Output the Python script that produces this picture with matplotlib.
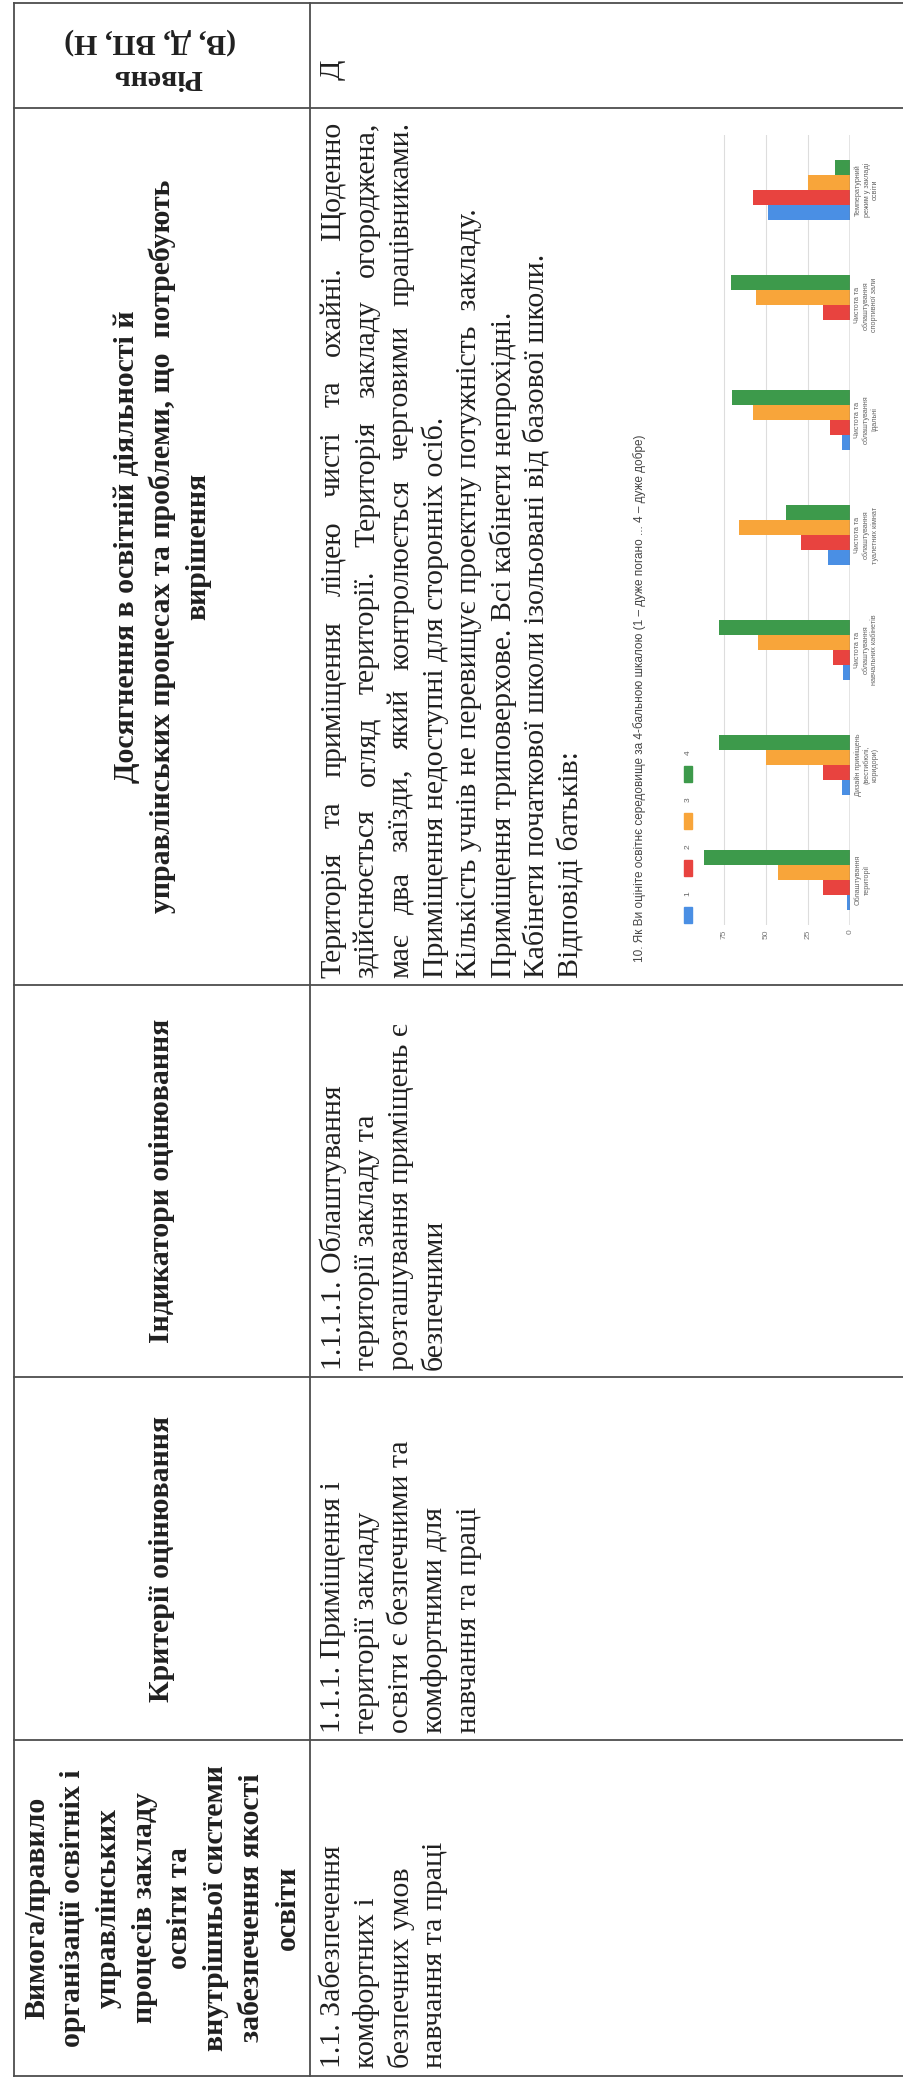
import numpy as np
import matplotlib.pyplot as plt
from matplotlib.patches import Rectangle

# ---- дані діаграми: відповіді батьків (питання 10) ----
categories = ["Облаштування\nтериторії",
              "Дизайн приміщень\n(вестибюлі,\nкоридори)",
              "Чистота та\nоблаштування\nнавчальних кабінетів",
              "Чистота та\nоблаштування\nтуалетних кімнат",
              "Чистота та\nоблаштування\nїдальні",
              "Чистота та\nоблаштування\nспортивної зали",
              "Температурний\nрежим у закладі\nосвіти"]
series_names = ["1", "2", "3", "4"]
score_1 = [2, 5, 4, 13, 5, 0, 49]
score_2 = [16, 16, 10, 29, 12, 16, 58]
score_3 = [43, 50, 55, 66, 58, 56, 25]
score_4 = [87, 78, 78, 38, 70, 71, 9]
value_ticks = [0, 25, 50, 75]
series_colors = ["#4a8fe4", "#e8433f", "#f8a53a", "#3d9a4b"]
chart_title = "10. Як Ви оцініте освітнє середовище за 4-бальною шкалою (1 – дуже погано ... 4 – дуже добре)"

# ---- тексти таблиці ----
head_vymoha = ["Вимога/правило", "організації освітніх і", "управлінських",
               "процесів закладу", "освіти та", "внутрішньої системи",
               "забезпечення якості", "освіти"]
head_kryterii = ["Критерії оцінювання"]
head_indyk = ["Індикатори оцінювання"]
head_dosyag = ["Досягнення в освітній діяльності й",
               "управлінських процесах та проблеми, що  потребують",
               "вирішення"]
head_riven = ["Рівень", "(В, Д, ВП, Н)"]

body_vymoha = ["1.1. Забезпечення", "комфортних і", "безпечних умов", "навчання та праці"]
body_kryterii = ["1.1.1. Приміщення і", "території закладу", "освіти є безпечними та",
                 "комфортними для", "навчання та праці"]
body_indyk = ["1.1.1.1. Облаштування", "території закладу та",
              "розташування приміщень є", "безпечними"]
body_dosyag = ["Територія та  приміщення ліцею чисті та охайні. Щоденно",
               "здійснюється огляд території. Територія закладу огороджена,",
               "має два заїзди, який контролюється черговими працівниками.",
               "Приміщення недоступні для сторонніх осіб.",
               "Кількість учнів не перевищує проектну потужність  закладу.",
               "Приміщення триповерхове. Всі кабінети непрохідні.",
               "Кабінети початкової школи ізольовані від базової школи.",
               "Відповіді батьків:"]
body_riven = "Д"

W, H = 904, 2087
fig = plt.figure(figsize=(W / 100, H / 100), dpi=100)
page = fig.add_axes([0, 0, 1, 1])
page.set_xlim(0, W)
page.set_ylim(H, 0)
page.axis("off")
rend = fig.canvas.get_renderer()

ink = "#202020"
serif = "Liberation Serif"
fs = 21.5

# лінії таблиці
line_kw = dict(color="#4d4d4d", lw=1.3)
x_left, x_head, x_right = 14, 310, W
y_top, y_bot = 3, 2076
row_edges = [108, 985, 1377, 1740]
page.plot([x_left, x_left], [y_top, y_bot], **line_kw)
page.plot([x_head, x_head], [y_top, y_bot], **line_kw)
for yy in [y_top, y_bot] + row_edges:
    page.plot([x_left, x_right], [yy, yy], **line_kw)


def vtext(x, y, s, ha="left", **kw):
    return page.text(x, y, s, rotation=90, rotation_mode="anchor", ha=ha,
                     va="center", color=ink, family=serif, fontsize=fs, **kw)


def head_block(lines, y_mid, step=35.7):
    xc = (x_left + x_head) / 2
    n = len(lines)
    for i, s in enumerate(lines):
        vtext(xc + (i - (n - 1) / 2) * step, y_mid, s, ha="center", weight="bold")


def body_block(lines, y_start, x0=333, step=34):
    for i, s in enumerate(lines):
        vtext(x0 + i * step, y_start, s)


def justified(x, y_start, y_end, s):
    # рядок вирівнюється по ширині клітинки
    words = s.split()
    widths = []
    for w in words:
        t = page.text(0, 0, w, family=serif, fontsize=fs)
        widths.append(t.get_window_extent(renderer=rend).width)
        t.remove()
    gap = (y_start - y_end - sum(widths)) / (len(words) - 1)
    y = y_start
    for w, wd in zip(words, widths):
        vtext(x, y, w)
        y -= wd + gap


# заголовки
head_block(head_vymoha, (1740 + y_bot) / 2)
head_block(head_kryterii, (1377 + 1740) / 2)
head_block(head_indyk, (985 + 1377) / 2)
head_block(head_dosyag, (108 + 985) / 2)
page.text(158, 78, head_riven[0], rotation=180, rotation_mode="anchor", ha="center",
          va="center", color=ink, family=serif, fontsize=fs, weight="bold")
page.text(150, 42, head_riven[1], rotation=180, rotation_mode="anchor", ha="center",
          va="center", color=ink, family=serif, fontsize=fs, weight="bold")

# вміст
body_block(body_vymoha, 2068)
body_block(body_kryterii, 1733)
body_block(body_indyk, 1370)
for i, s in enumerate(body_dosyag):
    if i < 3:
        justified(333 + i * 34, 978, 122, s)
    else:
        vtext(333 + i * 34, 978, s)
vtext(333, 70, body_riven, ha="center")

# ---- вставлена діаграма ----
px_left, px_right, px_top, px_bot = 698, 850, 135, 925
ax = fig.add_axes([px_left / W, 1 - px_bot / H, (px_right - px_left) / W, (px_bot - px_top) / H])
pos = np.arange(len(categories))
bh = 0.13
for k, vals in enumerate([score_1, score_2, score_3, score_4]):
    ax.barh(pos + (k - 1.5) * bh, vals, height=bh, color=series_colors[k], zorder=3)
ax.set_xlim(90.5, 0)
ax.set_ylim(-0.39, 6.48)
for v in value_ticks[1:]:
    ax.axvline(v, color="#dddddd", lw=0.8, zorder=1)
ax.axvline(0, color="#777777", lw=1.0, zorder=4)
ax.set_xticks(value_ticks)
ax.set_xticklabels([str(v) for v in value_ticks], rotation=90, fontsize=6, color="#777777",
                   family="Liberation Sans")
ax.yaxis.tick_right()
ax.set_yticks(pos)
ax.set_yticklabels(categories, rotation=90, fontsize=5.2, color="#666666",
                   family="Liberation Sans", va="center", ha="left", multialignment="center")
ax.tick_params(length=0, pad=3)
for sp in ax.spines.values():
    sp.set_visible(False)
ax.patch.set_alpha(0)

# легенда і заголовок діаграми
for k, name in enumerate(series_names):
    yc = 915 - k * 47
    page.add_patch(Rectangle((684, yc - 8), 8, 16, color=series_colors[k]))
    page.text(688, yc - 21, name, rotation=90, rotation_mode="anchor", ha="center", va="center",
              fontsize=6, color="#666666", family="Liberation Sans")
page.text(640, 962, chart_title, rotation=90, rotation_mode="anchor", ha="left", va="center",
          fontsize=8.5, color="#444444", family="Liberation Sans")

fig.savefig("out.png", dpi=100, facecolor="white")
